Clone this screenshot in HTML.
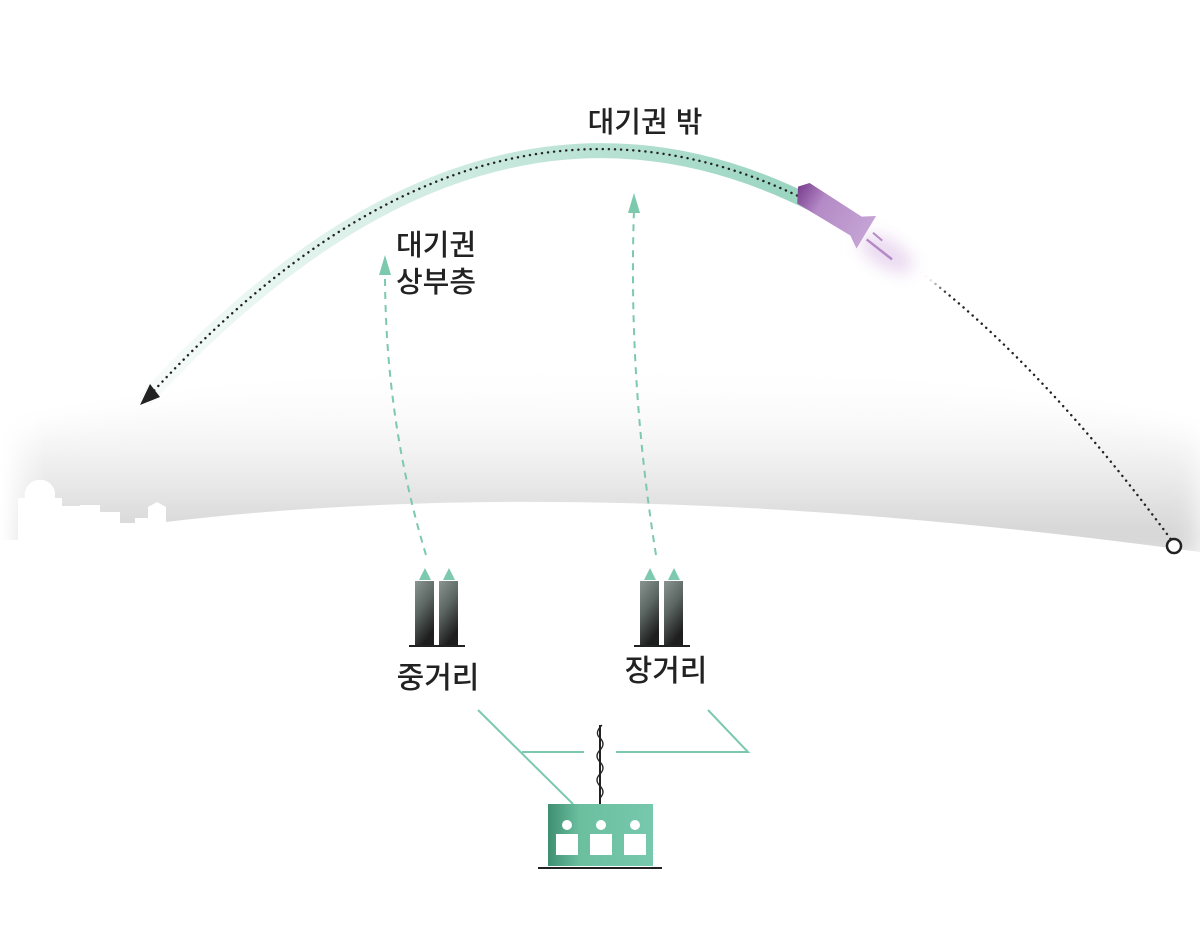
<!DOCTYPE html>
<html><head><meta charset="utf-8"><style>
html,body{margin:0;padding:0;background:#fff}
svg{display:block}
text{font-family:"Liberation Sans","Noto Sans CJK KR",sans-serif;fill:#222;font-weight:500}
</style></head><body>
<svg width="1200" height="936" viewBox="0 0 1200 936" xmlns="http://www.w3.org/2000/svg">
<defs>
<linearGradient id="haze" gradientUnits="userSpaceOnUse" x1="0" y1="360" x2="0" y2="545">
<stop offset="0" stop-color="#fff" stop-opacity="0"/>
<stop offset="0.55" stop-color="#f0f0f0"/>
<stop offset="1" stop-color="#d2d2d2"/>
</linearGradient>
<linearGradient id="leftfade" x1="0" y1="0" x2="1" y2="0">
<stop offset="0" stop-color="#fff" stop-opacity="1"/>
<stop offset="1" stop-color="#fff" stop-opacity="0"/>
</linearGradient>
<linearGradient id="band" gradientUnits="userSpaceOnUse" x1="140" y1="0" x2="800" y2="0">
<stop offset="0" stop-color="#7fcab0" stop-opacity="0.05"/>
<stop offset="0.5" stop-color="#7fcab0" stop-opacity="0.4"/>
<stop offset="1" stop-color="#7fcab0" stop-opacity="0.8"/>
</linearGradient>
<linearGradient id="tube" x1="0" y1="0" x2="0.4" y2="1">
<stop offset="0" stop-color="#8a9591"/>
<stop offset="0.5" stop-color="#5a6461"/>
<stop offset="1" stop-color="#1e1e1e"/>
</linearGradient>
<linearGradient id="rk" x1="0" y1="0" x2="1" y2="0">
<stop offset="0" stop-color="#7a3f8f"/>
<stop offset="0.35" stop-color="#b48ac6"/>
<stop offset="1" stop-color="#c4a3d4"/>
</linearGradient>
<linearGradient id="bld" x1="0" y1="0" x2="1" y2="0">
<stop offset="0" stop-color="#3f8f72"/>
<stop offset="0.3" stop-color="#6bbf9f"/>
<stop offset="1" stop-color="#77c8ad"/>
</linearGradient>
<filter id="blur" x="-50%" y="-50%" width="200%" height="200%"><feGaussianBlur stdDeviation="14"/></filter>
<filter id="blur2" x="-50%" y="-50%" width="200%" height="200%"><feGaussianBlur stdDeviation="8"/></filter>
</defs>

<!-- haze -->
<path d="M0,440 Q600,300 1200,440 L1200,560 L0,560 Z" fill="url(#haze)" filter="url(#blur)"/>
<rect x="0" y="380" width="45" height="170" fill="url(#leftfade)"/>
<!-- ground -->
<path d="M0,540 L18,540 L18,498 L25,498 A14,14 0 0 1 55,492 L55,498 L62,498 L62,506 L80,506 L80,505 L100,505 L100,512 L120,512 L120,523 L135,523 L135,518 L148,518 L148,507 L157,502 L166,507 L166,522 Q600,470 1200,552 L1200,936 L0,936 Z" fill="#fff"/>

<!-- trajectory band -->
<path d="M145,400 Q660,-163 1175,545" fill="none" stroke="url(#band)" stroke-width="15" pathLength="1000" stroke-dasharray="600 2000"/>
<!-- dotted -->
<path d="M150,395 Q660,-163 1175,545" fill="none" stroke="#222" stroke-width="2.4" stroke-dasharray="0.1 6" stroke-linecap="round"/>
<polygon points="140,405 150,384 160,397" fill="#222"/>
<circle cx="1174" cy="546" r="7" fill="#fff" stroke="#222" stroke-width="2.5"/>

<!-- rocket -->
<g transform="translate(796,190) rotate(31)">
<ellipse cx="95" cy="4" rx="80" ry="30" fill="#fff" filter="url(#blur2)"/>
<ellipse cx="110" cy="8" rx="30" ry="14" fill="#ead9f0" filter="url(#blur2)"/>
<polygon points="0,-4 8,-13 70,-11 82,-19 82,19 70,11 8,11" fill="url(#rk)"/>
<line x1="88" y1="-3" x2="100" y2="-1" stroke="#b48ac6" stroke-width="2"/>
<line x1="86" y1="6" x2="118" y2="10" stroke="#b48ac6" stroke-width="2.5"/>
</g>

<!-- dashed green arrows -->
<path d="M426,555 Q385,420 385,272" fill="none" stroke="#7cc9ae" stroke-width="2" stroke-dasharray="7 6"/>
<polygon points="385,255 379,275 391,275" fill="#7cc9ae"/>
<path d="M656,555 Q628,380 634,210" fill="none" stroke="#7cc9ae" stroke-width="2" stroke-dasharray="7 6"/>
<polygon points="634,193 628,213 640,213" fill="#7cc9ae"/>

<!-- missiles -->
<g>
<polygon points="425,568 419,580 431,580" fill="#7cc9ae"/>
<polygon points="449,568 443,580 455,580" fill="#7cc9ae"/>
<rect x="415" y="581" width="19" height="64" fill="url(#tube)"/>
<rect x="439" y="581" width="19" height="64" fill="url(#tube)"/>
<rect x="409" y="645" width="56" height="2" fill="#222"/>
</g>
<g>
<polygon points="650,568 644,580 656,580" fill="#7cc9ae"/>
<polygon points="674,568 668,580 680,580" fill="#7cc9ae"/>
<rect x="640" y="581" width="19" height="64" fill="url(#tube)"/>
<rect x="664" y="581" width="19" height="64" fill="url(#tube)"/>
<rect x="634" y="645" width="56" height="2" fill="#222"/>
</g>

<!-- labels -->
<text x="645" y="132" font-size="29" text-anchor="middle">대기권 밖</text>
<text x="396" y="255" font-size="29">대기권</text>
<text x="396" y="292" font-size="29">상부층</text>
<text x="438" y="688" font-size="30" text-anchor="middle">중거리</text>
<text x="666" y="681" font-size="30" text-anchor="middle">장거리</text>

<!-- connectors -->
<g stroke="#7cc9ae" stroke-width="2" fill="none">
<line x1="478" y1="710" x2="573" y2="804"/>
<line x1="522" y1="752" x2="584" y2="752"/>
<polyline points="616,752 748,752 708,710"/>
</g>
<!-- antenna -->
<line x1="600" y1="725" x2="600" y2="804" stroke="#222" stroke-width="2"/>
<path d="M602,725 Q594,733 600,738 Q606,744 600,750 Q594,756 600,762 Q606,768 600,774 Q594,780 600,786 Q606,792 600,798" fill="none" stroke="#222" stroke-width="1.3"/>
<!-- building -->
<rect x="548" y="804" width="105" height="62" fill="url(#bld)"/>
<g fill="#fff">
<circle cx="567" cy="825" r="5"/><circle cx="601" cy="825" r="5"/><circle cx="635" cy="825" r="5"/>
<rect x="556" y="834" width="22" height="21"/><rect x="590" y="834" width="22" height="21"/><rect x="624" y="834" width="22" height="21"/>
</g>
<rect x="538" y="867" width="124" height="2" fill="#222"/>
</svg>
</body></html>
